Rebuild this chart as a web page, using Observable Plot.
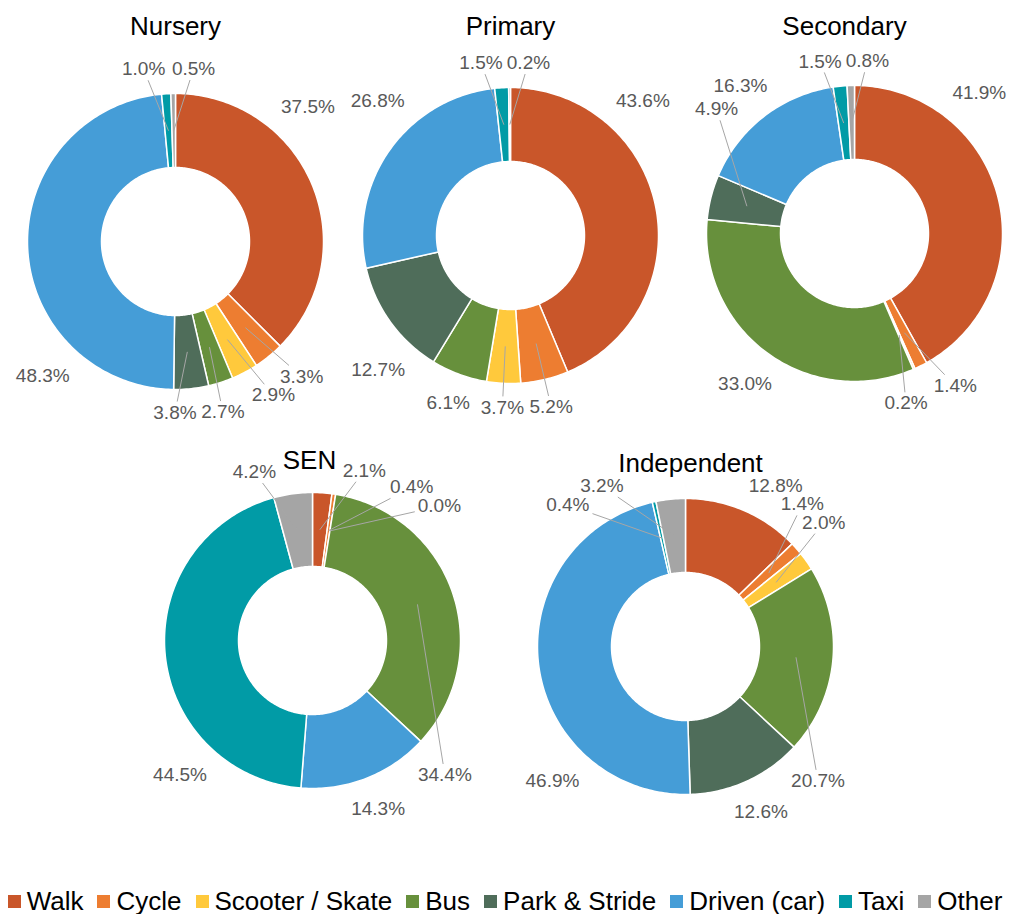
<!DOCTYPE html>
<html><head><meta charset="utf-8">
<script src="https://cdn.jsdelivr.net/npm/d3@7"></script>
<script src="https://cdn.jsdelivr.net/npm/@observablehq/plot@0.6"></script>
<style>
body{margin:0;background:#fff;width:1010px;height:914px;position:relative;overflow:hidden;font-family:"Liberation Sans",Arial,Helvetica,sans-serif}
#chart{position:absolute;left:0;top:0}
#legend{position:absolute;left:0;top:888px;width:1010px;height:26px;display:flex;justify-content:center;align-items:center;font-size:26px;color:#000;white-space:nowrap}
.item{display:flex;align-items:center;margin:0 7px}
.sw{width:13px;height:13px;margin-right:6px;flex:none}
</style></head><body>
<div id="chart"></div><div id="legend"></div>
<script>
// ---- data ----
const categories = ["Walk","Cycle","Scooter / Skate","Bus","Park & Stride","Driven (car)","Taxi","Other"];
const colors = ["#C9562A","#ED7D31","#FFC93C","#67903C","#4F6D5A","#459DD7","#019BA6","#A5A5A5"];
const schools = ["Nursery","Primary","Secondary","SEN","Independent"];
const nursery = [37.5,3.3,2.9,2.7,3.8,48.3,1.0,0.5];
const primary = [43.6,5.2,3.7,6.1,12.7,26.8,1.5,0.2];
const secondary = [41.9,1.4,0.2,33.0,4.9,16.3,1.5,0.8];
const sen = [2.1,0.4,0.0,34.4,null,14.3,44.5,4.2];
const independent = [12.8,1.4,2.0,20.7,12.6,46.9,0.4,3.2];
const seriesValues = [nursery, primary, secondary, sen, independent];

// ---- layout (not data) ----
const layout = [
  {cx:175, cy:241, tx:175, ty:26},
  {cx:510, cy:235, tx:510, ty:26},
  {cx:854, cy:233, tx:844, ty:26},
  {cx:312, cy:640, tx:309, ty:460},
  {cx:685, cy:646, tx:690, ty:463}
];
const R = 148, r0 = 74, W = 1010, H = 878;
const labelSize = 19, titleSize = 26, gap = 14, sideRoom = 14;

const ctx = document.createElement("canvas").getContext("2d");
function measure(t, size){ ctx.font = size + 'px "Liberation Sans", Arial, sans-serif'; return ctx.measureText(t).width; }

const sliceRows = [], labelRows = [], leaderRows = [], titleRows = [];
const pt = (L, rho, a) => [L.cx + rho*Math.sin(a), L.cy - rho*Math.cos(a)];
const norm = a => Math.atan2(Math.sin(a), Math.cos(a));

layout.forEach((L, pi) => {
  const vals = seriesValues[pi];
  const arcs = d3.pie().sort(null).value(d => d == null ? 0 : d)(vals);
  titleRows.push({title: schools[pi], x: L.tx, y: L.ty});
  // slices
  arcs.forEach((a, i) => {
    const span = a.endAngle - a.startAngle;
    if (span <= 0) return;
    const n = Math.max(2, Math.ceil(span / (Math.PI/180)));
    const key = schools[pi] + "|" + categories[i];
    for (let k = 0; k <= n; k++) {
      const [x, y] = pt(L, R, a.startAngle + span*k/n);
      sliceRows.push({key, category: categories[i], x, y});
    }
    for (let k = n; k >= 0; k--) {
      const [x, y] = pt(L, r0, a.startAngle + span*k/n);
      sliceRows.push({key, category: categories[i], x, y});
    }
  });
  // labels
  let labs = [];
  arcs.forEach((a, i) => {
    if (vals[i] == null) return;
    const mid = (a.startAngle + a.endAngle)/2;
    const text = vals[i].toFixed(1) + "%";
    const w = measure(text, labelSize);
    labs.push({id: i, mid, a0: a.startAngle, a1: a.endAngle, ang: mid, text, w, hw: w/2 + 2, hh: 9, value: vals[i], bdir: 0, tdir: 0});
  });
  const place = l => {
    const s = Math.sin(l.ang), c = Math.cos(l.ang);
    const d = R + gap + Math.abs(s)*l.hw + Math.abs(c)*l.hh;
    l.x = L.cx + d*s; l.y = L.cy - d*c;
  };
  labs.forEach(place);
  const xmin = Math.max(L.cx - R - sideRoom, 2), xmax = Math.min(L.cx + R + sideRoom, W - 2);
  const tb = {x: L.tx, y: L.ty, hw: measure(schools[pi], titleSize)/2 + 4, hh: 13};
  const outOfBounds = p => p.x - p.hw < xmin || p.x + p.hw > xmax;
  const overlap = (p, q) => Math.abs(p.x-q.x) < p.hw+q.hw && Math.abs(p.y-q.y) < p.hh+q.hh;
  const hitsTitle = p => overlap(p, tb);

  function relax(set, useBounds, iters) {
    for (let it = 0; it < iters; it++) {
      let moved = false;
      if (useBounds) for (const p of set) if (p.bdir && outOfBounds(p)) { p.ang += 0.005*p.bdir; place(p); moved = true; }
      for (let a = 0; a < set.length; a++) for (let b = a+1; b < set.length; b++) {
        const p = set[a], q = set[b];
        if (overlap(p, q)) {
          const diff = norm(q.ang - p.ang), st = 0.01;
          if (diff >= 0) { p.ang -= st; q.ang += st; } else { p.ang += st; q.ang -= st; }
          place(p); place(q); moved = true;
        }
      }
      for (const p of set) if (hitsTitle(p)) {
        if (!p.tdir) p.tdir = p.x >= tb.x ? 1 : -1;
        p.ang += 0.01*p.tdir; place(p); moved = true;
      }
      if (!moved) break;
    }
  }
  // phase 1: labels that fit at their slice's mid angle
  const boundedIds = labs.filter(p => outOfBounds(p)).map(p => p.id);
  relax(labs.filter(p => !boundedIds.includes(p.id)), false, 1500);
  // phase 2: try every side choice for labels that do not fit, keep the least displaced layout
  let best = null;
  const nb = boundedIds.length;
  for (let mask = 0; mask < (1 << nb); mask++) {
    const trial = labs.map(p => Object.assign({}, p));
    boundedIds.forEach((id, k) => {
      const q = trial.find(p => p.id === id);
      q.bdir = (mask >> k) & 1 ? 1 : -1;
      let n = 0;
      while (outOfBounds(q) && n < 400) { q.ang += 0.005*q.bdir; place(q); n++; }
    });
    relax(trial, true, 3000);
    let score = 0;
    trial.forEach(p => { score += Math.abs(norm(p.ang - p.mid)); if (outOfBounds(p)) score += 1; if (hitsTitle(p)) score += 10; });
    for (let a = 0; a < trial.length; a++) for (let b = a+1; b < trial.length; b++) if (overlap(trial[a], trial[b])) score += 10;
    if (!best || score < best.score) best = {score, trial};
  }
  labs = best.trial;
  labs.forEach(l => {
    l.x = Math.max(l.hw + 1, Math.min(W - l.hw - 1, l.x));
    labelRows.push({text: l.text, x: l.x, y: l.y});
    const rel = ((l.ang - l.a0) % (2*Math.PI) + 2*Math.PI) % (2*Math.PI);
    const inside = rel > 0.05 && rel < (l.a1 - l.a0) - 0.05;
    if (l.value < 6 || !inside) {
      const [sx, sy] = pt(L, (R + r0)/2, l.mid);
      const dx = sx - l.x, dy = sy - l.y;
      const hw = l.w/2 + 3, hh = 11;
      const t = Math.min(dx === 0 ? Infinity : hw/Math.abs(dx), dy === 0 ? Infinity : hh/Math.abs(dy));
      if (t < 1) leaderRows.push({x1: sx, y1: sy, x2: l.x + t*dx, y2: l.y + t*dy});
    }
  });
});

const chart = Plot.plot({
  width: W, height: H, margin: 0,
  x: {domain: [0, W], range: [0, W], axis: null},
  y: {domain: [0, H], range: [0, H], axis: null},
  color: {domain: categories, range: colors},
  style: {fontFamily: '"Liberation Sans", Arial, sans-serif', background: "white"},
  marks: [
    Plot.line(sliceRows, {x: "x", y: "y", z: "key", fill: "category", stroke: "white", strokeWidth: 1.5, curve: "linear-closed"}),
    Plot.link(leaderRows, {x1: "x1", y1: "y1", x2: "x2", y2: "y2", stroke: "#A6A6A6", strokeWidth: 1}),
    Plot.text(labelRows, {x: "x", y: "y", text: "text", fill: "#595959", fontSize: labelSize}),
    Plot.text(titleRows, {x: "x", y: "y", text: "title", fill: "#000", fontSize: titleSize})
  ]
});
document.getElementById("chart").appendChild(chart);

const legend = document.getElementById("legend");
categories.forEach((c, i) => {
  const item = document.createElement("div"); item.className = "item";
  const sw = document.createElement("span"); sw.className = "sw"; sw.style.background = colors[i];
  const tx = document.createElement("span"); tx.textContent = c;
  item.appendChild(sw); item.appendChild(tx); legend.appendChild(item);
});
</script>
</body></html>
